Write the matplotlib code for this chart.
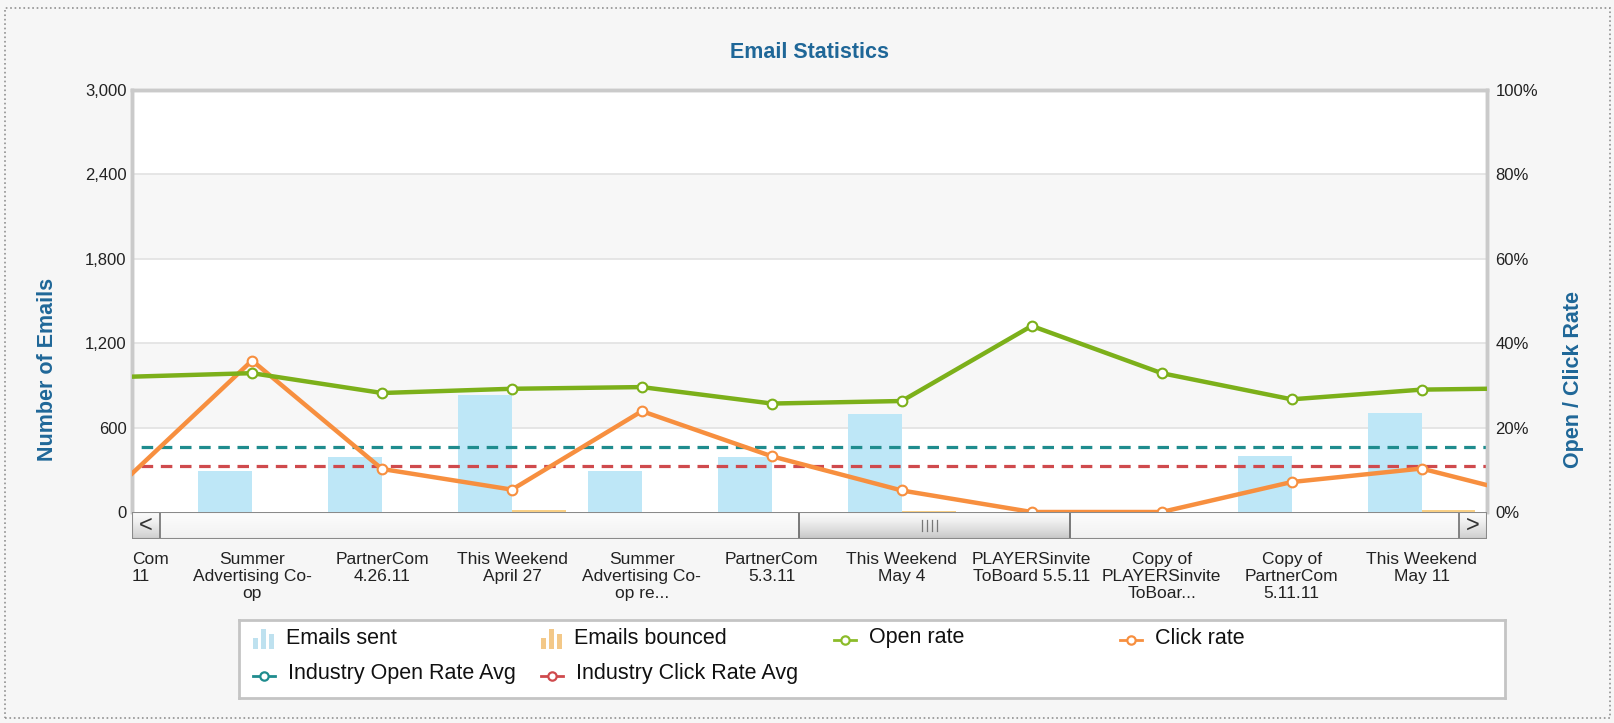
import numpy as np
import matplotlib.pyplot as plt
from matplotlib.patches import Rectangle
from matplotlib.lines import Line2D

plt.rcParams['font.family'] = ['Liberation Sans', 'DejaVu Sans']

# Données
categories = ["Com\n11", "Summer\nAdvertising Co-\nop", "PartnerCom\n4.26.11",
              "This Weekend\nApril 27", "Summer\nAdvertising Co-\nop re...",
              "PartnerCom\n5.3.11", "This Weekend\nMay 4",
              "PLAYERSinvite\nToBoard 5.5.11", "Copy of\nPLAYERSinvite\nToBoar...",
              "Copy of\nPartnerCom\n5.11.11", "This Weekend\nMay 11", ""]
emails_sent = [0, 294, 393, 830, 289, 393, 694, 0, 0, 400, 706, 0]
emails_bounced = [0, 2, 2, 12, 3, 2, 8, 0, 0, 2, 12, 0]
open_rate = [32.0, 32.9, 28.2, 29.2, 29.6, 25.7, 26.3, 44.1, 32.9, 26.7, 29.0, 29.4]
click_rate = [6.9, 35.9, 10.2, 5.3, 23.9, 13.2, 5.1, 0.0, 0.0, 7.1, 10.3, 2.5]
industry_open = [15.3] * 12
industry_click = [11.0] * 12

left_ticks = [0, 600, 1200, 1800, 2400, 3000]
right_ticks = [0, 20, 40, 60, 80, 100]

x = np.arange(len(categories))
bw = 0.415

blue = '#1f6798'
grid_c = '#e2e2e2'
spine_c = '#cacaca'
txt_c = '#222222'

fig = plt.figure(figsize=(16.14, 7.23), dpi=100, facecolor='#f6f6f6')
W, H = 1614, 723

def px(l, t, r, b):
    return [l / W, 1 - b / H, (r - l) / W, (b - t) / H]

ax = fig.add_axes(px(132, 90, 1487, 512))
ax.set_facecolor('white')
ax.axhspan(600, 1200, color='#f7f7f7', zorder=0, lw=0)
ax.axhspan(1800, 2400, color='#f7f7f7', zorder=0, lw=0)
for t in left_ticks[1:-1]:
    ax.axhline(t, color=grid_c, lw=1.2, zorder=0.5)

ax.bar(x - bw / 2, emails_sent, width=bw, color='#bee7f7', zorder=1)
ax.bar(x + bw / 2, emails_bounced, width=bw, color='#f8cf85', zorder=1)

ax.set_xlim(0.076, 10.504)
ax.set_ylim(0, 3000)
ax.set_yticks(left_ticks)
ax.set_yticklabels([f"{v:,}" for v in left_ticks])
ax.set_xticks(x[1:11])
ax.set_xticklabels(categories[1:11], linespacing=1.2)
ax.tick_params(axis='x', length=0, pad=28.5, labelsize=12.5, labelcolor=txt_c)
ax.tick_params(axis='y', length=0, pad=4, labelsize=12, labelcolor=txt_c)
ax.annotate(categories[0], xy=(0.076, 0), xycoords='data', xytext=(0, -40),
            textcoords='offset pixels', ha='left', va='top', fontsize=12.5,
            color=txt_c, linespacing=1.2, annotation_clip=False)

ax2 = ax.twinx()
ax2.set_ylim(0, 100)
ax2.set_yticks(right_ticks)
ax2.set_yticklabels([f"{v}%" for v in right_ticks])
ax2.tick_params(axis='y', length=0, pad=6, labelsize=12, labelcolor=txt_c)

ax2.plot(x, industry_open, color='#1f8c8e', lw=2.3, dashes=(3.6, 2.4), zorder=2)
ax2.plot(x, industry_click, color='#cf4a4d', lw=2.3, dashes=(3.6, 2.4), zorder=2)
ax2.plot(x, click_rate, color='#f78f3f', lw=3.2, marker='o', ms=7,
         mfc='white', mec='#f78f3f', mew=1.5, zorder=3)
ax2.plot(x, open_rate, color='#7cb01a', lw=3.2, marker='o', ms=7,
         mfc='white', mec='#7cb01a', mew=1.5, zorder=4)

for a in (ax, ax2):
    for s in a.spines.values():
        s.set_color(spine_c)
        s.set_linewidth(2.5)
    a.spines['bottom'].set_visible(False)

fig.text(809 / W, 1 - 52 / H, "Email Statistics", ha='center', va='center',
         fontsize=15.5, fontweight='bold', color=blue)
fig.text(48 / W, 1 - 369 / H, "Number of Emails", ha='center', va='center',
         rotation=90, fontsize=15.5, fontweight='bold', color=blue)
fig.text(1573 / W, 1 - 379 / H, "Open / Click Rate", ha='center', va='center',
         rotation=90, fontsize=15.5, fontweight='bold', color=blue)

# barre de défilement
sb = fig.add_axes(px(132, 512, 1487, 539))
sb.set_xlim(0, 1355)
sb.set_ylim(0, 27)
sb.axis('off')
grad = np.linspace(1, 0, 50).reshape(-1, 1)
sb.imshow(grad, extent=(0, 1355, 0, 27), aspect='auto', cmap='Greys_r',
          vmin=-9, vmax=1.2, zorder=0)
sb.add_patch(Rectangle((0, 0), 1355, 27, fill=False, ec='#8a8a8a', lw=1.5, zorder=5))
sb.imshow(grad, extent=(667, 938, 0, 27), aspect='auto', cmap='Greys_r',
          vmin=-2.2, vmax=1.1, zorder=2)
sb.add_patch(Rectangle((667, 0), 271, 27, fill=False, ec='#6f6f6f', lw=1.3, zorder=3))
for gx in (790, 795, 800, 805):
    sb.plot([gx, gx], [8, 19], color='#777777', lw=0.9, zorder=4)
for bx in (0, 1327):
    sb.imshow(grad, extent=(bx, bx + 28, 0, 27), aspect='auto', cmap='Greys_r',
              vmin=-2.5, vmax=1.1, zorder=2)
    sb.add_patch(Rectangle((bx, 0), 28, 27, fill=False, ec='#7a7a7a', lw=1.3, zorder=3))
sb.text(14, 13.5, "<", ha='center', va='center', fontsize=17, color='#333333', zorder=4)
sb.text(1341, 13.5, ">", ha='center', va='center', fontsize=17, color='#333333', zorder=4)

# légende
lg = fig.add_axes(px(239, 620, 1505, 698))
lg.set_xlim(0, 1266)
lg.set_ylim(78, 0)
lg.set_xticks([])
lg.set_yticks([])
lg.set_facecolor('white')
for s in lg.spines.values():
    s.set_color('#c4c4c4')
    s.set_linewidth(2)

entries = [
    ("Emails sent", 'bar', '#a9d8ea', 14, 18),
    ("Emails bounced", 'bar', '#f0b660', 302, 18),
    ("Open rate", 'line', '#8cbc2a', 597, 18),
    ("Click rate", 'line', '#f78f3f', 883, 18),
    ("Industry Open Rate Avg", 'line', '#1f8c8e', 16, 54),
    ("Industry Click Rate Avg", 'line', '#cf4a4d', 304, 54),
]
for label, kind, col, ix, iy in entries:
    if kind == 'bar':
        for dx, h in ((0, 11), (8, 20), (16, 15)):
            lg.add_patch(Rectangle((ix + dx, iy + 11 - h), 5, h, fc=col, ec='none',
                                   alpha=0.75))
    else:
        lg.add_line(Line2D([ix - 2, ix + 20], [iy + 2, iy + 2], color=col, lw=2))
        lg.plot([ix + 9], [iy + 2], marker='o', ms=6, mfc='white', mec=col, mew=1.6)
    lg.text(ix + 33, iy, label, ha='left', va='center', fontsize=15.5, color='#111111')

fig.patches.append(Rectangle((5 / W, 5 / H), 1605 / W, 710 / H, transform=fig.transFigure,
                             fill=False, ec='#909090', lw=1.2, ls=':'))

plt.savefig("out.png", dpi=100, facecolor=fig.get_facecolor())
